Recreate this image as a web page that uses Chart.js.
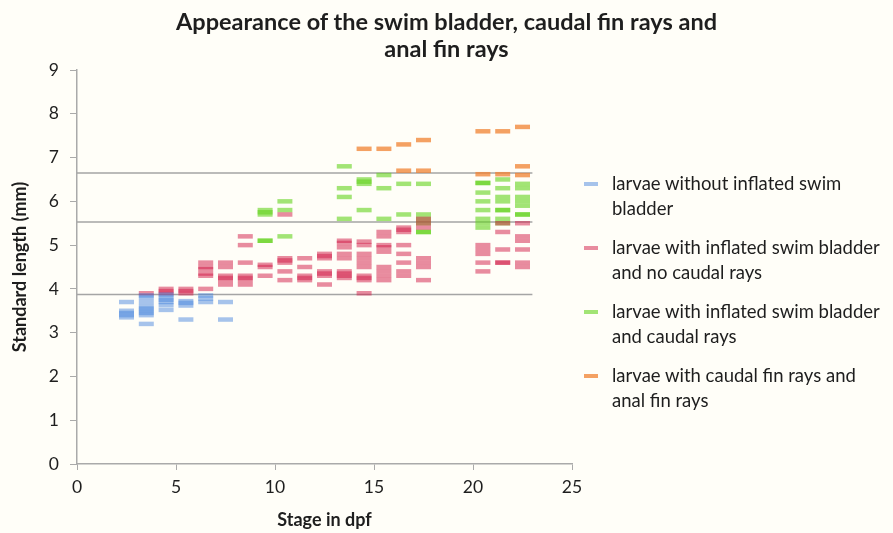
<!DOCTYPE html>
<html>
<head>
<meta charset="utf-8">
<script src="https://cdn.jsdelivr.net/npm/chart.js@4.4.1/dist/chart.umd.min.js"></script>
<style>
    html, body { margin: 0; padding: 0; background: #fffef8; }
    #wrap { position: relative; width: 893px; height: 533px; font-family: Lato, sans-serif; color: #1e1e1e; overflow: hidden; }
    #chart { position: absolute; left: 0; top: 0; }
    #title { position: absolute; left: 0; top: 8px; width: 893px; text-align: center; font-weight: bold; font-size: 23.5px; line-height: 27px; }
    #legend { position: absolute; left: 584px; top: 171px; width: 309px; }
    .item { display: flex; align-items: flex-start; gap: 14px; font-size: 18.5px; line-height: 25px; margin-bottom: 14px; }
    .mark { width: 14px; height: 4px; margin-top: 11px; flex-shrink: 0; }
</style>
</head>
<body>
<div id="wrap">
    <canvas id="chart" width="893" height="533"></canvas>
    <div id="title">Appearance of the swim bladder, caudal fin rays and<br>anal fin rays</div>
    <div id="legend"></div>
</div>
<script>
// stage (dpf) of each sampled group
const stages = [2.5, 3.5, 4.5, 5.5, 6.5, 7.5, 8.5, 9.5, 10.5, 11.5, 12.5, 13.5, 14.5, 15.5, 16.5, 17.5, 20.5, 21.5, 22.5];

// standard length (mm) of each larva, one list per stage
const noBladder = [
    [3.7, 3.5, 3.45, 3.4, 3.35],
    [3.85, 3.8, 3.7, 3.6, 3.55, 3.5, 3.45, 3.4, 3.2],
    [3.87, 3.8, 3.75, 3.7, 3.63, 3.52],
    [3.72, 3.68, 3.62, 3.3],
    [3.85, 3.78, 3.7],
    [3.7, 3.3],
    [], [], [], [], [], [], [], [], [], [], [], [], []
];
const bladderNoCaudal = [
    [],
    [3.9],
    [4.0, 3.95, 3.9],
    [4.0, 3.95, 3.9],
    [4.6, 4.5, 4.45, 4.35, 4.3, 4.0],
    [4.6, 4.5, 4.3, 4.25, 4.2, 4.1],
    [5.2, 5.0, 4.6, 4.3, 4.25, 4.2, 4.1],
    [4.55, 4.5, 4.3],
    [5.7, 4.7, 4.65, 4.6, 4.4, 4.2],
    [4.7, 4.5, 4.3, 4.25, 4.2],
    [4.8, 4.75, 4.7, 4.4, 4.35, 4.3, 4.1],
    [5.1, 5.05, 4.95, 4.8, 4.7, 4.4, 4.35, 4.3, 4.25],
    [5.08, 5.0, 4.8, 4.7, 4.6, 4.5, 4.3, 4.25, 4.2, 3.9],
    [5.3, 5.2, 5.0, 4.95, 4.85, 4.5, 4.4, 4.3, 4.2],
    [5.4, 5.35, 5.3, 5.0, 4.8, 4.6, 4.4, 4.3],
    [5.6, 5.5, 5.4, 4.7, 4.6, 4.5, 4.2],
    [5.0, 4.9, 4.8, 4.6, 4.4],
    [5.5, 5.3, 4.9, 4.6, 4.6],
    [5.5, 5.2, 5.1, 4.9, 4.6, 4.5]
];
const bladderCaudal = [
    [], [], [], [], [], [], [],
    [5.8, 5.75, 5.7, 5.1, 5.1],
    [6.0, 5.8, 5.2],
    [], [],
    [6.8, 6.3, 6.1, 5.6],
    [6.5, 6.45, 6.4, 5.8],
    [6.6, 6.3, 5.6],
    [6.4, 5.7],
    [6.4, 5.7, 5.6, 5.5, 5.3, 5.3],
    [6.42, 6.42, 6.2, 6.0, 5.8, 5.6, 5.5, 5.4],
    [6.5, 6.3, 6.1, 6.0, 5.8, 5.8, 5.6, 5.5],
    [6.4, 6.3, 6.1, 6.0, 5.9, 5.7, 5.7]
];
const caudalAnal = [
    [], [], [], [], [], [], [], [], [], [], [], [],
    [7.2],
    [7.2],
    [7.3, 6.7],
    [7.4, 6.7],
    [7.6, 6.62],
    [7.6, 6.62],
    [7.7, 6.8, 6.6]
];

// size thresholds drawn as horizontal guides
const thresholds = [3.87, 5.53, 6.65];
const thresholdEnd = 23;

const series = [
    { label: 'larvae without inflated swim bladder', values: noBladder, color: 'rgba(60,126,220,0.46)' },
    { label: 'larvae with inflated swim bladder and no caudal rays', values: bladderNoCaudal, color: 'rgba(210,25,70,0.5)' },
    { label: 'larvae with inflated swim bladder and caudal rays', values: bladderCaudal, color: 'rgba(100,210,30,0.6)' },
    { label: 'larvae with caudal fin rays and anal fin rays', values: caudalAnal, color: 'rgba(240,130,50,0.75)' }
];

const toPoints = lengths => stages.flatMap((s, i) => lengths[i].map(y => ({ x: s, y })));

const datasets = series.map(s => ({
    label: s.label,
    data: toPoints(s.values),
    pointStyle: 'line',
    pointRadius: 7.5,
    pointHoverRadius: 7.5,
    borderColor: s.color,
    backgroundColor: s.color,
    borderWidth: 4.5,
    order: 1
}));

thresholds.forEach(t => datasets.push({
    label: 'threshold',
    data: [{ x: 0, y: t }, { x: thresholdEnd, y: t }],
    showLine: true,
    pointRadius: 0,
    borderColor: 'rgb(165,165,165)',
    borderWidth: 1.5,
    order: 5
}));

const axisGrey = 'rgb(170,170,170)';
const tickFont = { family: 'Lato', size: 17.5 };
const titleFont = { family: 'Lato', size: 18, weight: 'bold' };

new Chart(document.getElementById('chart'), {
    type: 'scatter',
    data: { datasets },
    options: {
        responsive: false,
        animation: false,
        layout: { padding: { left: 0, top: 70, right: 321, bottom: 0 } },
        plugins: {
            legend: { display: false },
            title: { display: false },
            tooltip: { enabled: false }
        },
        scales: {
            x: {
                type: 'linear',
                min: 0,
                max: 25,
                ticks: { stepSize: 5, color: '#1e1e1e', font: tickFont, padding: 7 },
                grid: { drawOnChartArea: false, color: axisGrey, tickLength: 6 },
                border: { color: axisGrey, width: 1.5 },
                title: { display: true, text: 'Stage in dpf', color: '#1e1e1e', font: titleFont, padding: { top: 4, bottom: 2 } },
                afterFit: scale => { scale.height = 69; }
            },
            y: {
                min: 0,
                max: 9,
                ticks: { stepSize: 1, color: '#1e1e1e', font: tickFont, padding: 11 },
                grid: { drawOnChartArea: false, color: axisGrey, tickLength: 7 },
                border: { color: axisGrey, width: 1.5 },
                title: { display: true, text: 'Standard length (mm)', color: '#1e1e1e', font: titleFont, padding: { top: 9, bottom: 4 } },
                afterFit: scale => { scale.width = 77; }
            }
        }
    }
});

// Legend
document.getElementById('legend').innerHTML = series.map(s =>
    `<div class="item"><span class="mark" style="background:${s.color};"></span><span>${s.label}</span></div>`
).join('');
</script>
</body>
</html>
